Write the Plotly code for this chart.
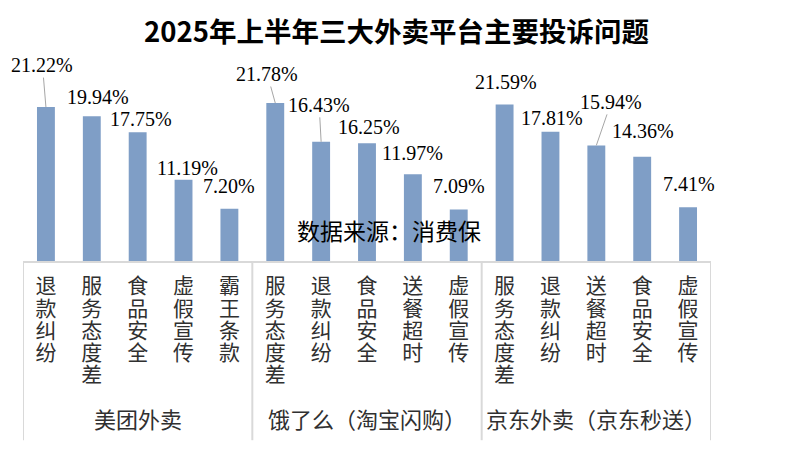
import plotly.graph_objects as go

# ---------------- data ----------------
title_text = "2025年上半年三大外卖平台主要投诉问题"
source_text = "数据来源：消费保"
groups = ["美团外卖", "饿了么（淘宝闪购）", "京东外卖（京东秒送）"]
meituan_items = ["退款纠纷", "服务态度差", "食品安全", "虚假宣传", "霸王条款"]
meituan_values = [21.22, 19.94, 17.75, 11.19, 7.20]
eleme_items = ["服务态度差", "退款纠纷", "食品安全", "送餐超时", "虚假宣传"]
eleme_values = [21.78, 16.43, 16.25, 11.97, 7.09]
jd_items = ["服务态度差", "退款纠纷", "送餐超时", "食品安全", "虚假宣传"]
jd_values = [21.59, 17.81, 15.94, 14.36, 7.41]

group_items = [meituan_items, eleme_items, jd_items]
group_values = [meituan_values, eleme_values, jd_values]

# ---------------- styling ----------------
BAR_COLOR = "#7F9EC6"
GRID_COLOR = "#D9D9D9"
TEXT_COLOR = "#303030"
CJK = "Noto Sans CJK SC"
SERIF = "Liberation Serif"

# label offsets (px) relative to bar top: (dx, dy, leader line)
label_offsets = [
    (-3.5, -42, True), (6.5, -19.5, False), (3.5, -13.5, False), (4, -11.5, False), (0, -22.5, False),
    (-8, -29, True), (-2, -37, True), (2, -16.5, False), (0, -21, False), (0, -23.5, False),
    (1, -22.5, False), (2, -13.5, False), (15, -43.5, True), (1, -25.5, False), (1, -23, False),
]

cats, vals, ticktexts = [], [], []
for g, its, vs in zip(groups, group_items, group_values):
    for it, v in zip(its, vs):
        cats.append(f"{g}|{it}")
        vals.append(v)
        ticktexts.append("<br>".join(f"<span style='font-size:21px'>{c}</span>" for c in it))

fig = go.Figure(go.Bar(
    x=cats, y=vals, marker=dict(color=BAR_COLOR, line=dict(width=0)),
    hoverinfo="skip", showlegend=False,
))

annotations = []
for c, v, (dx, dy, leader) in zip(cats, vals, label_offsets):
    txt = f"{v:.2f}%"
    if leader:
        annotations.append(dict(
            x=c, y=v, xref="x", yref="y", text=txt, showarrow=True,
            ax=dx, ay=dy, arrowhead=0, arrowwidth=1, arrowcolor="#A6A6A6", standoff=0,
            font=dict(family=SERIF, size=20, color="black"),
        ))
    else:
        annotations.append(dict(
            x=c, y=v, xref="x", yref="y", text=txt, showarrow=False,
            xanchor="center", yanchor="middle", xshift=dx, yshift=-dy,
            font=dict(family=SERIF, size=20, color="black"),
        ))

# group labels
n = len(cats)
start = 0
shapes = []
DIV_BOTTOM = -0.87
for g, its in zip(groups, group_items):
    mid = start + (len(its) - 1) / 2
    annotations.append(dict(
        x=mid, y=-0.76, xref="x", yref="paper", text=g, showarrow=False,
        xanchor="center", yanchor="middle",
        font=dict(family=CJK, size=22, color=TEXT_COLOR),
    ))
    start += len(its)

# dividers
edges = [-0.5]
acc = -0.5
for its in group_items:
    acc += len(its)
    edges.append(acc)
for e in edges:
    shapes.append(dict(type="line", xref="x", yref="paper", x0=e, x1=e, y0=0, y1=DIV_BOTTOM,
                       line=dict(color=GRID_COLOR, width=2)))

annotations.append(dict(
    x=0.532, y=0.15, xref="paper", yref="paper", text=source_text, showarrow=False,
    xanchor="center", yanchor="middle", font=dict(family=CJK, size=23, color="black"),
))

fig.update_layout(
    width=792, height=451,
    margin=dict(l=23, r=81, t=55, b=190),
    paper_bgcolor="white", plot_bgcolor="white",
    bargap=0.61,
    title=dict(text=f"<b>{title_text}</b>", x=396.5 / 792, xanchor="center",
               y=1 - 32 / 451, yanchor="middle",
               font=dict(family=CJK, size=27.5, color="black")),
    xaxis=dict(
        type="category", categoryorder="array", categoryarray=cats,
        tickvals=cats, ticktext=ticktexts, range=[-0.5, n - 0.5],
        tickfont=dict(family=CJK, size=17, color=TEXT_COLOR),
        ticks="", showline=True, linecolor=GRID_COLOR, linewidth=2,
        showgrid=False, zeroline=False, tickangle=0, ticklabelstandoff=10,
    ),
    yaxis=dict(range=[0, 28.4], visible=False, showgrid=False, zeroline=False),
    annotations=annotations, shapes=shapes,
)

fig.write_html("out.html", config={"displayModeBar": False},
               post_script="document.body.style.margin='0';")
